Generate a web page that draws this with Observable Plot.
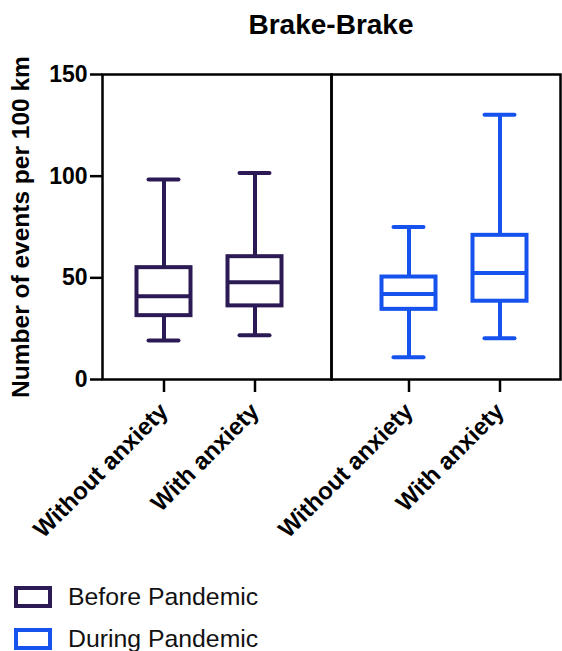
<!DOCTYPE html>
<html>
<head>
<meta charset="utf-8">
<script src="https://cdn.jsdelivr.net/npm/d3@7"></script>
<script src="https://cdn.jsdelivr.net/npm/@observablehq/plot@0.6"></script>
<style>
  body { margin: 0; background: #fff; }
  #wrap { position: relative; width: 562px; height: 651px; overflow: hidden; font-family: "Liberation Sans", Arial, sans-serif; color: #000; }
  #title { position: absolute; left: 100px; width: 462px; top: 9px; text-align: center; font-weight: bold; font-size: 28px; line-height: 32px; }
  #chart { position: absolute; left: 0; top: 50px; }
  #ylabel { position: absolute; left: 21px; top: 227px; transform: translate(-50%, -50%) rotate(-90deg); white-space: nowrap; font-weight: bold; font-size: 24.5px; line-height: 28px; }
  .sw { position: absolute; left: 14px; width: 38px; height: 22px; box-sizing: border-box; border: 4px solid; background: #fff; }
  .lt { position: absolute; left: 68px; font-size: 24.8px; line-height: 28px; white-space: nowrap; color: #111; }
</style>
</head>
<body>
<div id="wrap">
  <div id="title"></div>
  <div id="ylabel"></div>
  <div id="chart"></div>
  <div id="legend"></div>
</div>
<script>
// ---- data ----
const titleText = "Brake-Brake";
const yLabel = "Number of events per 100 km";
const periods = ["Before Pandemic", "During Pandemic"];
const groups = ["Without anxiety", "With anxiety"];
const mins    = [19.2, 21.8, 11.0, 20.3];
const q1s     = [31.4, 36.2, 34.5, 38.5];
const medians = [40.9, 47.8, 42.1, 52.4];
const q3s     = [55.0, 60.4, 50.4, 70.9];
const maxs    = [98.3, 101.5, 75.0, 130.2];
const yTicks  = [0, 50, 100, 150];
const colors  = ["#2c1a55", "#1652ee"];

const rows = periods.flatMap((p, i) => groups.map((g, j) => {
  const k = i * groups.length + j;
  return {period: p, group: g, min: mins[k], q1: q1s[k], median: medians[k], q3: q3s[k], max: maxs[k]};
}));

document.getElementById("title").textContent = titleText;
document.getElementById("ylabel").textContent = yLabel;

const lw = 4;
// each panel's boxes sit slightly off-centre in the reference
const panelShift = [-7.5, 8.5];
const anchors = ["left", "right"];

function boxMarks(i) {
  const d = rows.filter(r => r.period === periods[i]);
  const o = {fx: "period", x: "group", stroke: "period", strokeWidth: lw, dx: panelShift[i]};
  return [
    Plot.ruleX(d, {...o, y1: "min", y2: "q1"}),
    Plot.ruleX(d, {...o, y1: "q3", y2: "max"}),
    Plot.tickY(d, {...o, y: "min", strokeLinecap: "round", insetLeft: 12, insetRight: 12}),
    Plot.tickY(d, {...o, y: "max", strokeLinecap: "round", insetLeft: 12, insetRight: 12}),
    Plot.barY(d, {...o, y1: "q1", y2: "q3", fill: "white"}),
    Plot.tickY(d, {...o, y: "median"})
  ];
}

function xAxis(i) {
  return Plot.axisX({facetAnchor: anchors[i], dx: panelShift[i], tickRotate: -45, tickSize: 13, tickPadding: 15,
    fontSize: 24, fontWeight: "bold", stroke: "#000", strokeWidth: 2.5, label: null});
}

const chart = Plot.plot({
  width: 562,
  height: 510,
  marginTop: 24,
  marginBottom: 181,
  marginLeft: 102,
  marginRight: 2,
  style: {fontFamily: "'Liberation Sans', Arial, sans-serif", color: "#000", background: "transparent", overflow: "visible"},
  fx: {domain: periods, padding: 0, axis: null, label: null},
  x: {domain: groups, paddingInner: 0.402, paddingOuter: 0.446, label: null},
  y: {domain: [0, 150], label: null},
  color: {domain: periods, range: colors},
  marks: [
    ...boxMarks(0),
    ...boxMarks(1),
    Plot.frame({stroke: "#000", strokeWidth: 2.5}),
    Plot.axisY({ticks: yTicks, tickFormat: d => String(d), tickSize: 12, tickPadding: 3, fontSize: 23, fontWeight: "bold", stroke: "#000", strokeWidth: 2.5, label: null}),
    xAxis(0),
    xAxis(1)
  ]
});
document.getElementById("chart").appendChild(chart);

// ---- legend ----
const legend = document.getElementById("legend");
const legTops = [586, 628];
periods.forEach((p, i) => {
  const sw = document.createElement("div");
  sw.className = "sw";
  sw.style.top = legTops[i] + "px";
  sw.style.borderColor = colors[i];
  legend.appendChild(sw);
  const t = document.createElement("div");
  t.className = "lt";
  t.style.top = (legTops[i] - 3) + "px";
  t.textContent = p;
  legend.appendChild(t);
});
</script>
</body>
</html>
